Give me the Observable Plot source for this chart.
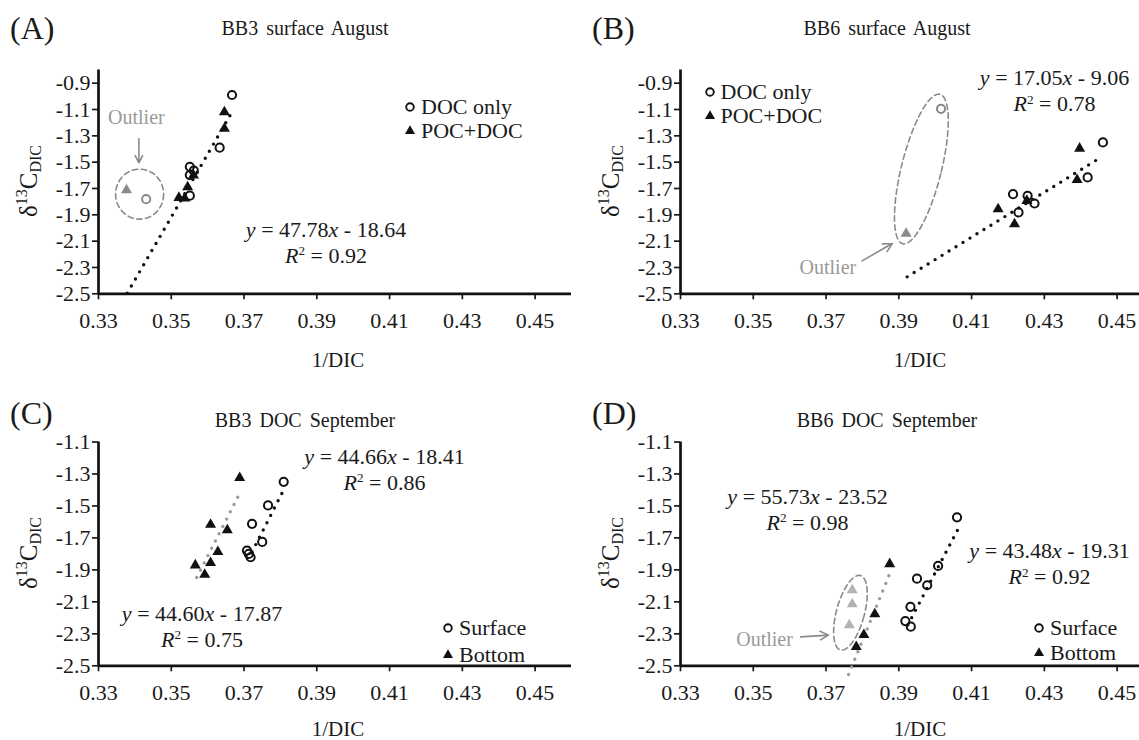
<!DOCTYPE html>
<html><head><meta charset="utf-8">
<script src="https://cdn.jsdelivr.net/npm/d3@7"></script>
<script src="https://cdn.jsdelivr.net/npm/@observablehq/plot@0.6"></script>
<style>
html,body{margin:0;padding:0;background:#fff;overflow:hidden;}
#fig{position:relative;width:1139px;height:740px;overflow:hidden;font-family:'Liberation Serif','Times New Roman',serif;color:#1a1a1a;}
.panel{position:absolute;width:580px;}
.panel svg{position:absolute;left:0;top:0;overflow:visible;}
.ov{position:absolute;white-space:nowrap;line-height:1;}
.c{transform:translate(-50%,-50%);}
.l{transform:translate(0,-50%);}
.eq{font-size:22px;text-align:center;line-height:26px;}
.eq i{font-style:italic;}
sup.s{font-size:0.6em;position:relative;top:-0.55em;vertical-align:baseline;}
.ylab{font-size:25px;transform:translate(-50%,-50%) rotate(-90deg);}
.ylab sup{font-size:0.64em;position:relative;top:-0.6em;vertical-align:baseline;}
.ylab sub{font-size:0.64em;position:relative;top:0.25em;vertical-align:baseline;}
.leg{font-size:22px;display:flex;align-items:center;}
.leg svg{position:static;margin-right:4px;}
g[aria-label*="axis"] path, g[aria-label*="axis"] line{stroke-width:1.7px;}
</style>
</head><body>
<div id="fig"></div>
<script>
// ---------- axis ticks ----------
const xTicks = [0.33, 0.35, 0.37, 0.39, 0.41, 0.43, 0.45];
const yTicksAug = [-0.9, -1.1, -1.3, -1.5, -1.7, -1.9, -2.1, -2.3, -2.5];
const yTicksSep = [-1.1, -1.3, -1.5, -1.7, -1.9, -2.1, -2.3, -2.5];

// ---------- (A) BB3 surface August ----------
const aDocX = [0.3667, 0.3633, 0.3551, 0.3562, 0.3551, 0.3551];
const aDocY = [-0.99, -1.39, -1.535, -1.565, -1.598, -1.755];
const aPocX = [0.3646, 0.3646, 0.3561, 0.3545, 0.3521, 0.3537];
const aPocY = [-1.12, -1.245, -1.60, -1.69, -1.77, -1.775];
const aOutDocX = [0.3431], aOutDocY = [-1.781];
const aOutPocX = [0.3377], aOutPocY = [-1.712];
const aFit = {slope: 47.78, intercept: -18.64, from: 0.3379, to: 0.3668};

// ---------- (B) BB6 surface August ----------
const bDocX = [0.4461, 0.4419, 0.4214, 0.4254, 0.4273, 0.4229];
const bDocY = [-1.35, -1.616, -1.743, -1.756, -1.814, -1.882];
const bPocX = [0.4397, 0.4390, 0.4252, 0.4173, 0.4218];
const bPocY = [-1.396, -1.634, -1.793, -1.857, -1.971];
const bOutDocX = [0.4016], bOutDocY = [-1.095];
const bOutPocX = [0.3920], bOutPocY = [-2.042];
const bFit = {slope: 17.05, intercept: -9.06, from: 0.3923, to: 0.4456};

// ---------- (C) BB3 DOC September ----------
const cSurfX = [0.3809, 0.3766, 0.3722, 0.3750, 0.3708, 0.3713, 0.3718];
const cSurfY = [-1.349, -1.497, -1.612, -1.725, -1.779, -1.800, -1.821];
const cBotX = [0.3688, 0.3608, 0.3654, 0.3628, 0.3566, 0.3608, 0.3592];
const cBotY = [-1.324, -1.617, -1.651, -1.787, -1.871, -1.856, -1.930];
const cFitSurf = {slope: 44.66, intercept: -18.41, from: 0.3722, to: 0.3812};
const cFitBot = {slope: 44.60, intercept: -17.87, from: 0.3570, to: 0.3690};

// ---------- (D) BB6 DOC September ----------
const dSurfX = [0.4060, 0.4008, 0.3978, 0.3950, 0.3932, 0.3918, 0.3933];
const dSurfY = [-1.571, -1.875, -1.996, -1.955, -2.131, -2.220, -2.255];
const dBotX = [0.3875, 0.3834, 0.3804, 0.3783];
const dBotY = [-1.863, -2.176, -2.306, -2.381];
const dOutBotX = [0.3772, 0.3772, 0.3764];
const dOutBotY = [-2.026, -2.114, -2.245];
const dFitSurf = {slope: 43.48, intercept: -19.31, from: 0.3925, to: 0.4068};
const dFitBot = {slope: 55.73, intercept: -23.52, from: 0.3762, to: 0.3880};

// ---------- layout ----------
const W = 580, ML = 98, MR = 9, MT = 69.5, AXIS_Y = 293.3;
const X_DOMAIN = [0.33, 0.46];
const BLACK = "#111", GREY = "#8a8a8a", LIGHT = "#b3b3b3", FITGREY = "#9a9a9a";

const zip = (xs, ys) => xs.map((x, i) => ({x, y: ys[i]}));
const fitPts = f => [f.from, f.to].map(x => ({x, y: f.slope * x + f.intercept}));
function ellipsePts(e, kx, ky) {
  const a = e.angle * Math.PI / 180, pts = [];
  for (let i = 0; i <= 120; i++) {
    const t = i / 120 * 2 * Math.PI;
    const ex = e.rx * Math.cos(t), ey = e.ry * Math.sin(t);
    const px = ex * Math.cos(a) - ey * Math.sin(a);
    const py = ex * Math.sin(a) + ey * Math.cos(a);
    pts.push({x: e.cx + px / kx, y: e.cy - py / ky});
  }
  return pts;
}
const openDot = (d, color) => Plot.dot(d, {x: "x", y: "y", r: 4.1, stroke: color, strokeWidth: 2, fill: "none"});
const triDot = (d, color) => Plot.dot(d, {x: "x", y: "y", r: 4.1, symbol: "triangle", fill: color});
const dotted = (f, color) => Plot.line(fitPts(f), {x: "x", y: "y", stroke: color, strokeWidth: 3.4, strokeDasharray: "0,8.2", strokeLinecap: "round"});

const panels = [
  {letter: "(A)", title: "BB3 surface August", left: 0, top: 0, h: 372, titleY: 28, letterY: 28, xlabY: 360,
   yDomain: [-2.5, -0.8], yTicks: yTicksAug,
   series: [
     dotted(aFit, BLACK),
     openDot(zip(aDocX, aDocY), BLACK), triDot(zip(aPocX, aPocY), BLACK),
     openDot(zip(aOutDocX, aOutDocY), GREY), triDot(zip(aOutPocX, aOutPocY), GREY)],
   ellipse: {cx: 0.3413, cy: -1.743, rx: 24, ry: 25, angle: 0},
   arrow: {x1: 0.3411, y1: -1.322, x2: 0.3411, y2: -1.505},
   outlier: {x: 0.3404, y: -1.162},
   eqs: [{html: '<i>y</i> = 47.78<i>x</i> - 18.64<br><i>R</i><sup class="s">2</sup> = 0.92', x: 326, y: 243.5}],
   legend: {x: 403, y1: 107, y2: 131, a: "DOC only", b: "POC+DOC"}},
  {letter: "(B)", title: "BB6 surface August", left: 582, top: 0, h: 372, titleY: 28, letterY: 28, xlabY: 360,
   yDomain: [-2.5, -0.8], yTicks: yTicksAug,
   series: [
     dotted(bFit, BLACK),
     openDot(zip(bDocX, bDocY), BLACK), triDot(zip(bPocX, bPocY), BLACK),
     openDot(zip(bOutDocX, bOutDocY), GREY), triDot(zip(bOutPocX, bOutPocY), GREY)],
   ellipse: {cx: 0.3962, cy: -1.552, rx: 20, ry: 77, angle: 14},
   arrow: {x1: 0.3799, y1: -2.250, x2: 0.3882, y2: -2.118},
   outlier: {x: 0.3705, y: -2.300},
   eqs: [{html: '<i>y</i> = 17.05<i>x</i> - 9.06<br><i>R</i><sup class="s">2</sup> = 0.78', x: 472.5, y: 92}],
   legend: {x: 120.5, y1: 92, y2: 116, a: "DOC only", b: "POC+DOC"}},
  {letter: "(C)", title: "BB3 DOC September", left: 0, top: 372, h: 368, titleY: 48, letterY: 41, xlabY: 357,
   yDomain: [-2.5, -1.1], yTicks: yTicksSep,
   series: [
     dotted(cFitBot, FITGREY), dotted(cFitSurf, BLACK),
     openDot(zip(cSurfX, cSurfY), BLACK), triDot(zip(cBotX, cBotY), BLACK)],
   eqs: [{html: '<i>y</i> = 44.66<i>x</i> - 18.41<br><i>R</i><sup class="s">2</sup> = 0.86', x: 384.5, y: 98.5},
         {html: '<i>y</i> = 44.60<i>x</i> - 17.87<br><i>R</i><sup class="s">2</sup> = 0.75', x: 202, y: 255.5}],
   legend: {x: 441, y1: 256, y2: 283, a: "Surface", b: "Bottom"}},
  {letter: "(D)", title: "BB6 DOC September", left: 582, top: 372, h: 368, titleY: 48, letterY: 41, xlabY: 357,
   yDomain: [-2.5, -1.1], yTicks: yTicksSep,
   series: [
     dotted(dFitBot, FITGREY), dotted(dFitSurf, BLACK),
     openDot(zip(dSurfX, dSurfY), BLACK), triDot(zip(dBotX, dBotY), BLACK),
     triDot(zip(dOutBotX, dOutBotY), LIGHT)],
   ellipse: {cx: 0.3767, cy: -2.168, rx: 14, ry: 38.5, angle: 15},
   arrow: {x1: 0.3630, y1: -2.319, x2: 0.3707, y2: -2.308},
   outlier: {x: 0.3531, y: -2.336},
   eqs: [{html: '<i>y</i> = 55.73<i>x</i> - 23.52<br><i>R</i><sup class="s">2</sup> = 0.98', x: 225.5, y: 138.5},
         {html: '<i>y</i> = 43.48<i>x</i> - 19.31<br><i>R</i><sup class="s">2</sup> = 0.92', x: 467.5, y: 193}],
   legend: {x: 450, y1: 256, y2: 281, a: "Surface", b: "Bottom"}}
];

const fig = document.getElementById("fig");
function addText(parent, html, x, y, cls, style) {
  const d = document.createElement("div");
  d.className = "ov " + cls;
  d.style.left = x + "px"; d.style.top = y + "px";
  if (style) Object.assign(d.style, style);
  d.innerHTML = html;
  parent.appendChild(d);
  return d;
}
const circleSvg = '<svg width="14" height="14" viewBox="-7 -7 14 14"><circle r="3.8" fill="none" stroke="#111" stroke-width="1.9"/></svg>';
const triSvg = '<svg width="14" height="14" viewBox="-7 -7 14 14"><polygon points="0,-5.8 5,2.9 -5,2.9" fill="#111"/></svg>';

for (const p of panels) {
  const div = document.createElement("div");
  div.className = "panel";
  div.style.left = p.left + "px"; div.style.top = p.top + "px"; div.style.height = p.h + "px";
  fig.appendChild(div);

  const kx = (W - ML - MR) / (X_DOMAIN[1] - X_DOMAIN[0]);
  const ky = (AXIS_Y - MT) / (p.yDomain[1] - p.yDomain[0]);
  const marks = [
    Plot.ruleY([p.yDomain[0]], {stroke: BLACK, strokeWidth: 2.7}),
    Plot.ruleX([X_DOMAIN[0]], {stroke: BLACK, strokeWidth: 2.7})
  ];
  if (p.ellipse) marks.push(Plot.line(ellipsePts(p.ellipse, kx, ky), {x: "x", y: "y", stroke: GREY, strokeWidth: 1.6, strokeDasharray: "5.5,3.5"}));
  if (p.arrow) marks.push(Plot.arrow([p.arrow], {x1: "x1", y1: "y1", x2: "x2", y2: "y2", stroke: GREY, strokeWidth: 1.6, headLength: 9, headAngle: 55}));
  if (p.outlier) marks.push(Plot.text([p.outlier], {x: "x", y: "y", text: () => "Outlier", fill: "#999", fontSize: 20}));
  marks.push(...p.series);

  const svg = Plot.plot({
    width: W, height: p.h,
    marginLeft: ML, marginRight: MR, marginTop: MT, marginBottom: p.h - AXIS_Y,
    style: {fontFamily: "'Liberation Serif','Times New Roman',serif", fontSize: "22px", color: "#1a1a1a", background: "transparent", overflow: "visible"},
    x: {domain: X_DOMAIN, ticks: xTicks, tickFormat: d => d.toFixed(2), tickSize: 6, tickPadding: 13, label: null},
    y: {domain: p.yDomain, ticks: p.yTicks, tickFormat: d => d.toFixed(1), tickSize: 6, tickPadding: 2, label: null},
    marks
  });
  div.appendChild(svg);

  addText(div, p.letter, 10, p.letterY, "l", {fontSize: "32px"});
  addText(div, p.title, 305, p.titleY, "c", {fontSize: "20px", wordSpacing: "3px"});
  addText(div, "1/DIC", 338, p.xlabY, "c", {fontSize: "21px"});
  addText(div, 'δ<sup>13</sup>C<sub>DIC</sub>', 28, 181, "ylab", null);
  for (const e of p.eqs) addText(div, e.html, e.x, e.y, "c eq", null);
  const lg = p.legend;
  addText(div, circleSvg + '<span>' + lg.a + '</span>', lg.x, lg.y1, "l leg", null);
  addText(div, triSvg + '<span>' + lg.b + '</span>', lg.x, lg.y2, "l leg", null);
}
</script>
</body></html>
